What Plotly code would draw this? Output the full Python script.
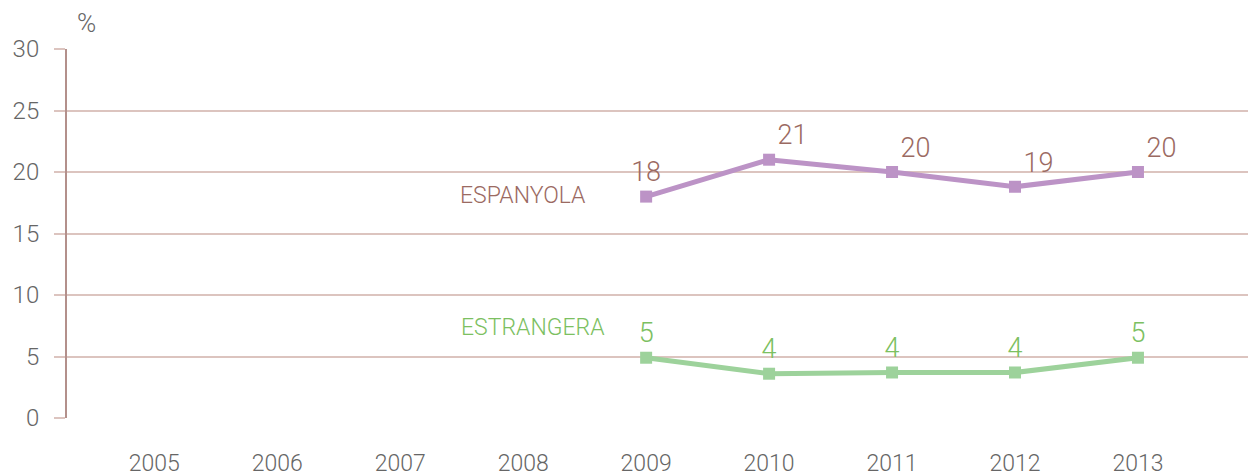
import plotly.graph_objects as go

years = ["2005", "2006", "2007", "2008", "2009", "2010", "2011", "2012", "2013"]
data_years = ["2009", "2010", "2011", "2012", "2013"]
espanyola = [18.0, 21.0, 20.0, 18.8, 20.0]
estrangera = [4.9, 3.6, 3.7, 3.7, 4.9]
espanyola_labels = ["18", "21", "20", "19", "20"]
estrangera_labels = ["5", "4", "4", "4", "5"]
y_ticks = [0, 5, 10, 15, 20, 25, 30]

FONT = "Roboto"
purple = "#bc93c6"
green = "#9dd29b"
brown_txt = "#9b6a62"
green_txt = "#7cc061"
grid = "#dcc4bf"
axis_col = "#b3908b"

first_idx = years.index(data_years[0])

fig = go.Figure()
fig.add_trace(go.Scatter(
    x=data_years, y=espanyola, mode="lines+markers+text",
    line=dict(color=purple, width=5),
    marker=dict(symbol="square", size=12, color=purple),
    text=espanyola_labels,
    textposition=["top center", "top right", "top right", "top right", "top right"],
    textfont=dict(family=FONT, size=27, color=brown_txt, weight=300),
    cliponaxis=False, showlegend=False, name="ESPANYOLA",
))
fig.add_trace(go.Scatter(
    x=data_years, y=estrangera, mode="lines+markers+text",
    line=dict(color=green, width=5),
    marker=dict(symbol="square", size=12, color=green),
    text=estrangera_labels,
    textposition="top center",
    textfont=dict(family=FONT, size=27, color=green_txt, weight=300),
    cliponaxis=False, showlegend=False, name="ESTRANGERA",
))

fig.add_annotation(x=first_idx, y=espanyola[0], text="ESPANYOLA", showarrow=False,
                   xanchor="right", yanchor="middle", xshift=-58, yshift=1,
                   font=dict(family=FONT, size=23, color=brown_txt, weight=300))
fig.add_annotation(x=first_idx, y=estrangera[0], text="ESTRANGERA", showarrow=False,
                   xanchor="right", yanchor="middle", xshift=-39, yshift=30,
                   font=dict(family=FONT, size=23, color=green_txt, weight=300))
fig.add_annotation(x=0, y=1, xref="paper", yref="paper", text="%", showarrow=False,
                   xanchor="center", yanchor="bottom", xshift=19, yshift=9,
                   font=dict(family=FONT, size=26, color="#666666", weight=300))

fig.update_layout(
    width=1248, height=468,
    margin=dict(l=59, r=0, t=41, b=58),
    paper_bgcolor="white", plot_bgcolor="white",
    font=dict(family=FONT, color="#666666"),
    xaxis=dict(type="category", categoryorder="array", categoryarray=years,
               range=[-0.71, 8.96], showgrid=False, zeroline=False, showline=False,
               ticks="", ticklabelstandoff=29, automargin=False,
               tickfont=dict(family=FONT, size=23, color="#666666", weight=300)),
    yaxis=dict(range=[0, 30], tickvals=y_ticks, showgrid=True, gridcolor=grid, gridwidth=1.5,
               zeroline=False, showline=True, linecolor=axis_col, linewidth=2,
               ticks="outside", ticklen=11, tickcolor=grid, tickwidth=1.5,
               ticklabelstandoff=10, automargin=False,
               tickfont=dict(family=FONT, size=24, color="#666666", weight=300)),
)

fig.write_html("out.html")
